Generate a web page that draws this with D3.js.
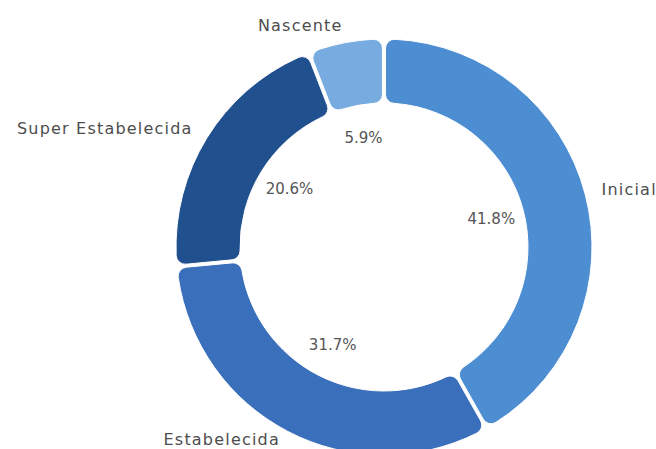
<!DOCTYPE html>
<html>
<head>
<meta charset="utf-8">
<script src="https://cdn.jsdelivr.net/npm/d3@7/dist/d3.min.js"></script>
<style>
  body { margin: 0; background: #fff; }
  #chart { width: 656px; height: 449px; }
</style>
</head>
<body>
<div id="chart"></div>
<script>
// data
var categories = ["Inicial", "Estabelecida", "Super Estabelecida", "Nascente"];
var shares = [41.8, 31.7, 20.6, 5.9];
var colors = ["#4d8dd2", "#3a6fbb", "#21508f", "#78ace0"];

var width = 656, height = 449;
var cx = 384, cy = 247;
var outerR = 208, innerR = 144;

var svg = d3.select("#chart")
		.append("svg")
		.attr("width", width)
		.attr("height", height);

var g = svg.append("g")
		.attr("transform", "translate(" + cx + "," + cy + ")");

var data = categories.map(function(c, i) {
	return { name: c, value: shares[i], color: colors[i] };
});

var pie = d3.pie()
		.sort(null)
		.value(function(d) { return d.value; });

var arc = d3.arc()
		.innerRadius(innerR)
		.outerRadius(outerR)
		.cornerRadius(9)
		.padAngle(0.012);

var arcs = pie(data);

g.selectAll("path.slice")
		.data(arcs)
		.enter()
		.append("path")
		.attr("class", "slice")
		.attr("d", arc)
		.attr("fill", function(d) { return d.data.color; })
		.attr("stroke", "#fff")
		.attr("stroke-width", 1);

// percentages inside the hole
var innerLabel = d3.arc().innerRadius(111).outerRadius(111);

g.selectAll("text.pct")
		.data(arcs)
		.enter()
		.append("text")
		.attr("class", "pct")
		.attr("transform", function(d) { return "translate(" + innerLabel.centroid(d) + ")"; })
		.attr("text-anchor", "middle")
		.attr("dominant-baseline", "central")
		.style("font-family", "'DejaVu Sans', sans-serif")
		.style("font-size", "15px")
		.style("fill", "#555")
		.text(function(d) { return d.data.value.toFixed(1) + "%"; });

// category names outside, kept inside the frame at the bottom
var outerLabel = d3.arc().innerRadius(225).outerRadius(225);

g.selectAll("text.name")
		.data(arcs)
		.enter()
		.append("text")
		.attr("class", "name")
		.attr("transform", function(d) {
			var p = outerLabel.centroid(d);
			var maxY = height - cy - 10;
			return "translate(" + p[0] + "," + Math.min(p[1], maxY) + ")";
		})
		.attr("text-anchor", function(d) {
			var mid = (d.startAngle + d.endAngle) / 2;
			return mid < Math.PI ? "start" : "end";
		})
		.attr("dominant-baseline", "central")
		.style("font-family", "'DejaVu Sans', sans-serif")
		.style("font-size", "16px")
		.style("letter-spacing", "1.2px")
		.style("fill", "#4d4d4d")
		.text(function(d) { return d.data.name; });
</script>
</body>
</html>
